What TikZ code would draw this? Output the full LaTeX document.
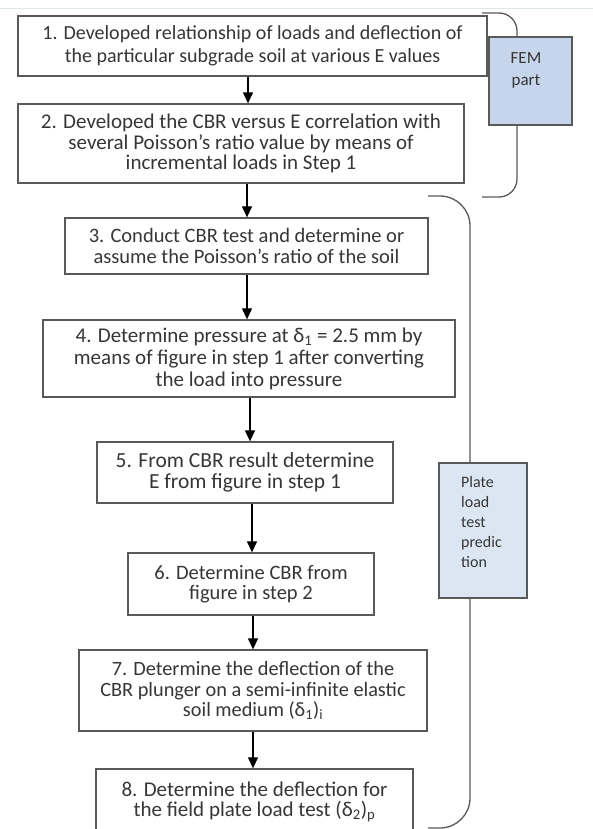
\documentclass[tikz,border=0pt]{standalone}
\usepackage{fontspec}
\setmainfont{Carlito}
\usetikzlibrary{arrows.meta}
\definecolor{edge}{HTML}{595959}
\definecolor{txt}{HTML}{363636}
\definecolor{femfill}{HTML}{C6D5EC}
\definecolor{platefill}{HTML}{DCE6F2}
\definecolor{faint}{HTML}{DDE8EE}
\begin{document}
\begin{tikzpicture}[x=1pt,y=-1pt,
  stepbox/.style={draw=edge, line width=1.3pt, fill=white, align=center, inner sep=0pt, text=txt, font=\fontsize{21}{20.5}\selectfont},
  sidebox/.style={draw=edge, line width=1.3pt, inner sep=0pt},
  sidetext/.style={text=txt, inner sep=0pt},
  arr/.style={draw=black, line width=1.2pt, -{Triangle[width=10pt,length=11pt]}},
  brace/.style={draw=edge, line width=1.3pt}]
\useasboundingbox (0,0) rectangle (593,829);
\draw[faint, line width=0.8pt] (0,8) -- (593,8);

% braces
\coordinate (br1a) at (482,13);
\coordinate (br1b) at (517,13);
\coordinate (br1c) at (517,197);
\coordinate (br1d) at (482,197);
\draw[brace, rounded corners=18pt] (br1a) -- (br1b) -- (br1c) -- (br1d);
\coordinate (br2a) at (428,196);
\coordinate (br2b) at (470,196);
\coordinate (br2c) at (470,828);
\coordinate (br2d) at (428,828);
\draw[brace, rounded corners=30pt] (br2a) -- (br2b) -- (br2c) -- (br2d);

% steps
\node[stepbox, font=\fontsize{20}{23}\selectfont, minimum width=469pt, minimum height=60pt] (b1) at (252.5,46)
  {1. Developed relationship of loads and deflection of\\the particular subgrade soil at various E values};
\node[stepbox, minimum width=446pt, minimum height=79pt] (b2) at (241,143.5)
  {2. Developed the CBR versus E correlation with\\several Poisson’s ratio value by means of\\incremental loads in Step 1};
\node[stepbox, font=\fontsize{20.5}{20.5}\selectfont, minimum width=363pt, minimum height=56pt] (b3) at (246.5,246)
  {3. Conduct CBR test and determine or\\assume the Poisson’s ratio of the soil};
\node[stepbox, font=\fontsize{21}{22}\selectfont, minimum width=412pt, minimum height=77pt] (b4) at (249,358.5)
  {4. Determine pressure at δ\textsubscript{1} = 2.5 mm by\\means of figure in step 1 after converting\\the load into pressure};
\node[stepbox, font=\fontsize{21.5}{20.5}\selectfont, minimum width=296pt, minimum height=61pt] (b5) at (245,472.5)
  {5. From CBR result determine\\E from figure in step 1};
\node[stepbox, font=\fontsize{20.5}{20.5}\selectfont, minimum width=246pt, minimum height=62pt] (b6) at (251,584)
  {6. Determine CBR from\\figure in step 2};
\node[stepbox, font=\fontsize{20.3}{20.5}\selectfont, minimum width=348pt, minimum height=81pt] (b7) at (253,690.5)
  {7. Determine the deflection of the\\CBR plunger on a semi-infinite elastic\\soil medium (δ\textsubscript{1})\textsubscript{i}};
\node[stepbox, minimum width=317pt, minimum height=66pt] (b8) at (254.5,802)
  {8. Determine the deflection for\\the field plate load test (δ\textsubscript{2})\textsubscript{p}};

% side boxes
\node[sidebox, fill=femfill, minimum width=83pt, minimum height=88pt] (fem) at (530.5,81) {};
\node[sidetext, font=\fontsize{17}{22}\selectfont, align=center, anchor=base] (femt) at (526,86) {FEM\\part};
\node[sidebox, fill=platefill, minimum width=88pt, minimum height=135pt] (plate) at (483,530.5) {};
\node[sidetext, font=\fontsize{16}{20}\selectfont, align=left, anchor=base west] (platet) at (461,567) {Plate\\load\\test\\predic\\tion};

% arrows
\coordinate (a1) at (248,0);
\coordinate (a2) at (247,0);
\coordinate (a3) at (247,0);
\coordinate (a4) at (250,0);
\coordinate (a5) at (252,0);
\coordinate (a6) at (253,0);
\coordinate (a7) at (253,0);
\draw[arr] (b1.south -| a1) -- (b2.north -| a1);
\draw[arr] (b2.south -| a2) -- (b3.north -| a2);
\draw[arr] (b3.south -| a3) -- (b4.north -| a3);
\draw[arr] (b4.south -| a4) -- (b5.north -| a4);
\draw[arr] (b5.south -| a5) -- (b6.north -| a5);
\draw[arr] (b6.south -| a6) -- (b7.north -| a6);
\draw[arr] (b7.south -| a7) -- (b8.north -| a7);
\end{tikzpicture}
\end{document}
